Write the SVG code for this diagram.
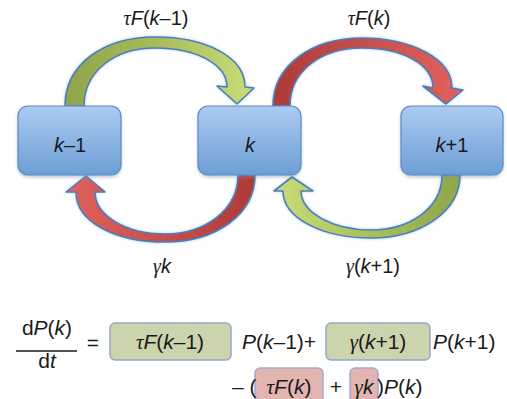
<svg xmlns="http://www.w3.org/2000/svg" width="507" height="399" viewBox="0 0 507 399">
  <defs>
    <style>
      .lbl { font-family: "Liberation Sans", Arial, sans-serif; font-size: 20px; fill: #1a1a1a; }
      .eq { font-family: "Liberation Sans", Arial, sans-serif; font-size: 21px; fill: #1a1a1a; }
      .gr { font-family: "Liberation Serif", "DejaVu Serif", serif; font-style: italic; }
      .it { font-style: italic; }
      .node { stroke: #5b8ac6; stroke-width: 1.2; fill: url(#boxGrad); filter: url(#soft); }
      .arrow { stroke: #4a7ebb; stroke-width: 1.6; stroke-linejoin: round; filter: url(#glow); }
      .term-g { fill: #ccd4ae; stroke: #97a6c9; stroke-width: 1.5; }
      .term-r { fill: #e3b5b1; stroke: #a9a6cc; stroke-width: 1.5; }
    </style>
    <linearGradient id="boxGrad" x1="0" y1="0" x2="0" y2="1">
      <stop offset="0" stop-color="#adcbef"/>
      <stop offset="1" stop-color="#6c9ed7"/>
    </linearGradient>
    <linearGradient id="greenLR" x1="0" y1="0" x2="1" y2="0">
      <stop offset="0" stop-color="#8fa54a"/>
      <stop offset="0.5" stop-color="#a9bd5c"/>
      <stop offset="1" stop-color="#c8dc78"/>
    </linearGradient>
    <linearGradient id="greenRL" x1="1" y1="0" x2="0" y2="0">
      <stop offset="0" stop-color="#8fa54a"/>
      <stop offset="0.5" stop-color="#abc05e"/>
      <stop offset="1" stop-color="#c8dc78"/>
    </linearGradient>
    <linearGradient id="redLR" x1="0" y1="0" x2="1" y2="0">
      <stop offset="0" stop-color="#ad3a37"/>
      <stop offset="0.5" stop-color="#c9504c"/>
      <stop offset="1" stop-color="#e0615d"/>
    </linearGradient>
    <linearGradient id="redRL" x1="1" y1="0" x2="0" y2="0">
      <stop offset="0" stop-color="#ad3a37"/>
      <stop offset="0.5" stop-color="#c9504c"/>
      <stop offset="1" stop-color="#e0615d"/>
    </linearGradient>
    <filter id="glow" x="-10%" y="-10%" width="120%" height="130%">
      <feGaussianBlur in="SourceAlpha" stdDeviation="1.6" result="b"/>
      <feFlood flood-color="#8fb2dc" flood-opacity="0.7"/>
      <feComposite in2="b" operator="in" result="g"/>
      <feMerge><feMergeNode in="g"/><feMergeNode in="SourceGraphic"/></feMerge>
    </filter>
    <filter id="soft" x="-10%" y="-10%" width="120%" height="130%">
      <feGaussianBlur in="SourceAlpha" stdDeviation="1.5" result="b"/>
      <feOffset dy="1.5" result="o"/>
      <feFlood flood-color="#7a8fa8" flood-opacity="0.45"/>
      <feComposite in2="o" operator="in" result="s"/>
      <feMerge><feMergeNode in="s"/><feMergeNode in="SourceGraphic"/></feMerge>
    </filter>
  </defs>

  <!-- curved transition arrows -->
  <g id="connectors">
    <!-- k-1 to k: birth rate -->
    <path class="arrow" fill="url(#greenLR)" d="M65,106 C65,64 104,37 155,37 C204,37 245,56 245,87 L254,88 L237,104 L217,86 L227,87 C227,64 196,48 155,48 C114,48 84,72 84,106 Z"/>
    <!-- k to k+1: birth rate -->
    <path class="arrow" fill="url(#redLR)" d="M273,106 C273,65 312,38 362,38 C410,38 452,58 452,88 L463,90 L446,104 L423,86 L433,88 C433,64 402,48 362,48 C320,48 290,72 290,106 Z"/>
    <!-- k to k-1: death rate -->
    <path class="arrow" fill="url(#redRL)" d="M255,175 C255,215 215,242 165,242 C115,242 76,222 76,192 L66,192 L86,176 L105,192 L95,192 C95,215 125,234 165,234 C205,234 238,210 238,175 Z"/>
    <!-- k+1 to k: death rate -->
    <path class="arrow" fill="url(#greenRL)" d="M460,175 C460,212 420,238 371,238 C322,238 283,218 283,191 L274,191 L292,177 L313,191 L301,191 C301,212 332,230 371,230 C410,230 442,208 442,175 Z"/>
  </g>

  <g id="node-km1">
    <rect class="node" x="18" y="106" width="103" height="69" rx="10"/>
    <text class="lbl" x="70" y="152" text-anchor="middle"><tspan class="it">k</tspan>–1</text>
  </g>
  <g id="node-k">
    <rect class="node" x="198" y="106" width="103" height="69" rx="10"/>
    <text class="lbl" x="250" y="152" text-anchor="middle"><tspan class="it">k</tspan></text>
  </g>
  <g id="node-kp1">
    <rect class="node" x="401" y="106" width="102" height="69" rx="10"/>
    <text class="lbl" x="452" y="152" text-anchor="middle"><tspan class="it">k</tspan>+1</text>
  </g>

  <!-- rate labels -->
  <g id="labels">
    <text class="lbl" x="156" y="25" text-anchor="middle"><tspan class="gr">τ</tspan><tspan class="it">F</tspan>(<tspan class="it">k</tspan>–1)</text>
    <text class="lbl" x="369" y="25" text-anchor="middle"><tspan class="gr">τ</tspan><tspan class="it">F</tspan>(<tspan class="it">k</tspan>)</text>
    <text class="lbl" x="162" y="273" text-anchor="middle"><tspan class="gr">γ</tspan><tspan class="it">k</tspan></text>
    <text class="lbl" x="373" y="273" text-anchor="middle"><tspan class="gr">γ</tspan>(<tspan class="it">k</tspan>+1)</text>
  </g>

  <!-- master equation -->
  <g id="equation">
    <rect class="term-g" x="110" y="323" width="121" height="37" rx="5"/>
    <rect class="term-g" x="326" y="323" width="104" height="37" rx="5"/>
    <rect class="term-r" x="255" y="368" width="68" height="36" rx="5"/>
    <rect class="term-r" x="350" y="368" width="28" height="36" rx="5"/>

    <text class="eq" x="47" y="335" text-anchor="middle">d<tspan class="it">P</tspan>(<tspan class="it">k</tspan>)</text>
    <line x1="16" y1="351" x2="77" y2="351" stroke="#1a1a1a" stroke-width="1.3"/>
    <text class="eq" x="47" y="368" text-anchor="middle">d<tspan class="it">t</tspan></text>
    <text class="eq" x="93" y="350" text-anchor="middle">=</text>

    <text class="eq" x="170" y="349" text-anchor="middle"><tspan class="gr">τ</tspan><tspan class="it">F</tspan>(<tspan class="it">k</tspan>–1)</text>
    <text class="eq" x="242" y="349"><tspan class="it">P</tspan>(<tspan class="it">k</tspan>–1)+</text>
    <text class="eq" x="378" y="349" text-anchor="middle"><tspan class="gr">γ</tspan>(<tspan class="it">k</tspan>+1)</text>
    <text class="eq" x="433" y="349"><tspan class="it">P</tspan>(<tspan class="it">k</tspan>+1)</text>

    <text class="eq" x="232" y="394">– (</text>
    <text class="eq" x="289" y="394" text-anchor="middle"><tspan class="gr">τ</tspan><tspan class="it">F</tspan>(<tspan class="it">k</tspan>)</text>
    <text class="eq" x="336" y="394" text-anchor="middle">+</text>
    <text class="eq" x="364" y="394" text-anchor="middle"><tspan class="gr">γ</tspan><tspan class="it">k</tspan></text>
    <text class="eq" x="377" y="394">)<tspan class="it">P</tspan>(<tspan class="it">k</tspan>)</text>
  </g>
</svg>
